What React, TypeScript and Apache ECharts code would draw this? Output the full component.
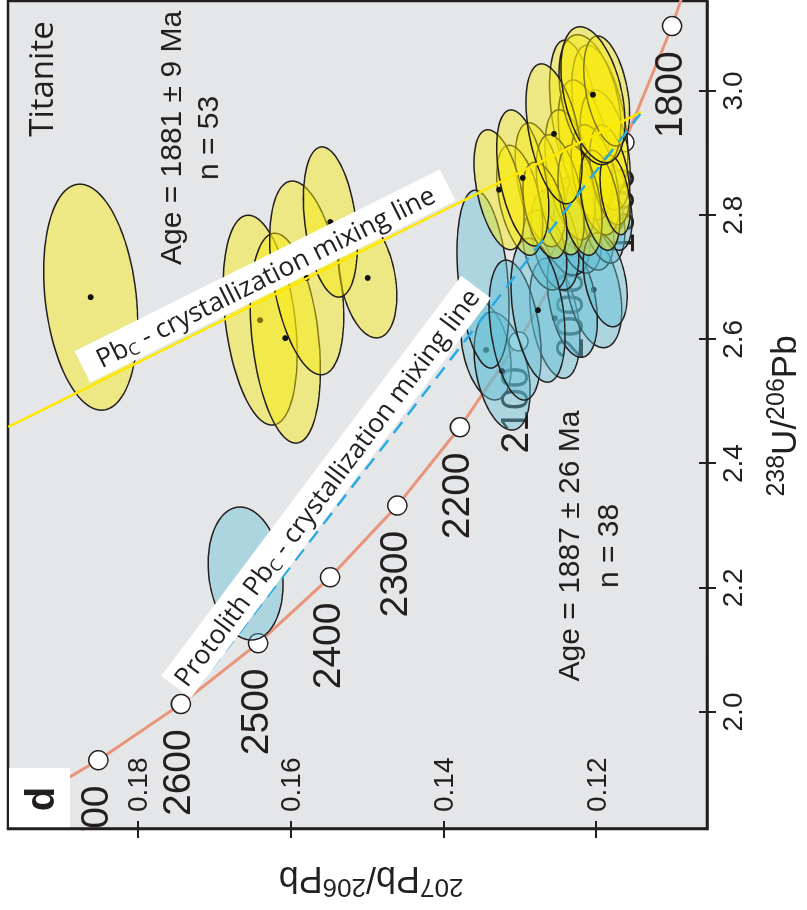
import React, { useEffect, useRef } from "react";
import * as echarts from "echarts";

// Concordia (Tera-Wasserburg) reference ages and their ratios
const concordiaAges = [1700, 1800, 1900, 2000, 2100, 2200, 2300, 2400, 2500, 2600, 2700, 2800];
const concordiaU238Pb206 = [3.314, 3.1046, 2.9174, 2.749, 2.5968, 2.4586, 2.3325, 2.217, 2.1108, 2.0129, 1.9224, 1.8384];
const concordiaPb207Pb206 = [0.10419, 0.11004, 0.11629, 0.12299, 0.13015, 0.13782, 0.14603, 0.15483, 0.16426, 0.17437, 0.1852, 0.19682];
const markedAges = [1800, 1900, 2000, 2100, 2200, 2300, 2400, 2500, 2600, 2700];

// Tick labels
const xTickValues = [2.0, 2.2, 2.4, 2.6, 2.8, 3.0];
const yTickValues = [0.12, 0.14, 0.16, 0.18];

// Error ellipses: [238U/206Pb, sigma x, 207Pb/206Pb, sigma y, rho, showCentre]
const blueEllipses = [
  [2.223, 0.1071, 0.1659, 0.00491, 0.15, 1],
  [2.583, 0.0805, 0.1344, 0.00328, 0.35, 1],
  [2.549, 0.095, 0.1323, 0.00367, 0.35, 1],
  [2.634, 0.0966, 0.1254, 0.00328, 0.35, 1],
  [2.68, 0.0934, 0.1203, 0.00367, 0.35, 1],
  [2.697, 0.1433, 0.1348, 0.00341, 0.3, 0],
  [2.615, 0.1127, 0.1306, 0.00341, 0.35, 0],
  [2.663, 0.0918, 0.1231, 0.00328, 0.35, 0],
  [2.776, 0.0725, 0.1241, 0.00328, 0.35, 0],
  [2.784, 0.0773, 0.1224, 0.00314, 0.35, 0],
  [2.789, 0.0773, 0.1208, 0.00314, 0.35, 0],
  [2.8, 0.0773, 0.1191, 0.00288, 0.35, 0],
  [2.816, 0.0725, 0.1179, 0.00262, 0.35, 0],
  [2.76, 0.0805, 0.1254, 0.00314, 0.35, 0],
  [2.744, 0.0644, 0.1267, 0.00288, 0.35, 0],
  [2.696, 0.0757, 0.1188, 0.00288, 0.35, 0],
  [2.647, 0.1159, 0.1276, 0.00354, 0.35, 1],
];

const yellowEllipses = [
  [2.668, 0.182, 0.1862, 0.00616, 0.23, 1],
  [2.631, 0.169, 0.164, 0.00485, 0.32, 1],
  [2.602, 0.169, 0.1607, 0.00459, 0.3, 1],
  [2.699, 0.156, 0.1579, 0.00485, 0.39, 1],
  [2.699, 0.0966, 0.1499, 0.0038, 0.3, 1],
  [2.789, 0.121, 0.1548, 0.00354, 0.31, 1],
  [2.961, 0.1208, 0.1228, 0.00328, 0.4, 0],
  [2.953, 0.1208, 0.1195, 0.00367, 0.45, 0],
  [2.905, 0.1127, 0.1214, 0.00354, 0.45, 0],
  [2.905, 0.0966, 0.1188, 0.00328, 0.4, 0],
  [2.865, 0.1047, 0.1234, 0.00328, 0.45, 0],
  [2.857, 0.0886, 0.1201, 0.00314, 0.45, 0],
  [2.865, 0.0805, 0.1182, 0.00262, 0.4, 0],
  [2.849, 0.0998, 0.1273, 0.00328, 0.45, 0],
  [2.833, 0.0966, 0.1247, 0.00314, 0.45, 0],
  [2.824, 0.0886, 0.1221, 0.00288, 0.4, 0],
  [2.824, 0.0805, 0.1195, 0.00262, 0.4, 0],
  [2.833, 0.0644, 0.1175, 0.00197, 0.4, 0],
  [2.824, 0.0886, 0.13, 0.00301, 0.45, 0],
  [2.808, 0.0773, 0.1267, 0.00288, 0.45, 0],
  [2.986, 0.1047, 0.1208, 0.00405, 0.4, 0],
  [3.0, 0.0886, 0.1186, 0.003, 0.4, 0],
  [2.841, 0.0966, 0.1327, 0.00328, 0.45, 1],
  [2.86, 0.1095, 0.1296, 0.00341, 0.45, 1],
  [2.931, 0.1127, 0.1255, 0.00367, 0.45, 1],
  [2.994, 0.1095, 0.1204, 0.0042, 0.4, 1],
];

// Mixing lines (238U/206Pb, 207Pb/206Pb)
const crystallizationLine = [
  [2.459, 0.197],
  [2.966, 0.1141],
];
const protolithLine = [
  [2.039, 0.1723],
  [2.963, 0.1142],
];

const INK = "#231f20";
const HELV = "'Liberation Sans', Arial, Helvetica, sans-serif";
const MYR = "'Open Sans', 'Noto Sans', sans-serif";

function ellipseRenderer(fill: string) {
  return (params: any, api: any) => {
    const x = api.value(0);
    const sx = api.value(1);
    const y = api.value(2);
    const sy = api.value(3);
    const rho = api.value(4);
    const dot = api.value(5);
    const k = Math.sqrt(1 - rho * rho);
    const pts: number[][] = [];
    const n = 90;
    for (let i = 0; i < n; i++) {
      const t = (i / n) * Math.PI * 2;
      pts.push(api.coord([x + sx * Math.cos(t), y + sy * (rho * Math.cos(t) + k * Math.sin(t))]));
    }
    const children: any[] = [
      {
        type: "polygon",
        shape: { points: pts },
        style: { fill, stroke: INK, lineWidth: 1.5 },
      },
    ];
    if (dot) {
      const c = api.coord([x, y]);
      children.push({ type: "circle", shape: { cx: c[0], cy: c[1], r: 3 }, style: { fill: "#111" } });
    }
    return { type: "group", children };
  };
}

export default function App() {
  const ref = useRef<HTMLDivElement>(null);

  useEffect(() => {
    if (!ref.current) return;
    const chart = echarts.init(ref.current, undefined, { renderer: "svg" });

    const xMin = 1.8116;
    const xMax = 3.1449;
    const yMin = 0.10546;
    const yMax = 0.19703;

    const concordiaData = concordiaAges.map((a, i) => [concordiaU238Pb206[i], concordiaPb207Pb206[i]]);
    const markedData = markedAges.map((a) => {
      const i = concordiaAges.indexOf(a);
      return [concordiaU238Pb206[i], concordiaPb207Pb206[i], a];
    });

    const option: any = {
      animation: false,
      textStyle: { fontFamily: HELV },
      grid: {
        left: 81,
        right: 1,
        top: 8,
        bottom: 100,
        show: true,
        backgroundColor: "#e4e6e8",
        borderColor: INK,
        borderWidth: 2.5,
        outerBoundsMode: "none",
      },
      xAxis: [
        {
          type: "value",
          min: xMin,
          max: xMax,
          position: "bottom",
          z: 12,
          axisLine: { show: true, lineStyle: { color: INK, width: 2.5 } },
          axisTick: { show: true, customValues: xTickValues, length: 9, lineStyle: { color: INK, width: 2 } },
          axisLabel: {
            show: true,
            customValues: xTickValues,
            margin: 11,
            fontSize: 28,
            fontFamily: HELV,
            color: INK,
            formatter: (v: number) => v.toFixed(1),
          },
          splitLine: { show: false },
        },
        {
          type: "value",
          min: xMin,
          max: xMax,
          position: "bottom",
          z: 12,
          axisLine: { show: false },
          axisTick: { show: true, inside: true, customValues: xTickValues, length: 8, lineStyle: { color: INK, width: 2 } },
          axisLabel: { show: false },
          splitLine: { show: false },
        },
      ],
      yAxis: [
        {
          type: "value",
          min: yMin,
          max: yMax,
          position: "left",
          z: 12,
          axisLine: { show: true, lineStyle: { color: INK, width: 2.5 } },
          axisTick: { show: true, customValues: yTickValues, length: 9, lineStyle: { color: INK, width: 2 } },
          axisLabel: {
            show: true,
            inside: true,
            customValues: yTickValues,
            margin: 17,
            fontSize: 28,
            fontFamily: HELV,
            color: INK,
            formatter: (v: number) => v.toFixed(2),
          },
          splitLine: { show: false },
        },
        {
          type: "value",
          min: yMin,
          max: yMax,
          position: "left",
          z: 12,
          axisLine: { show: false },
          axisTick: { show: true, inside: true, customValues: yTickValues, length: 8, lineStyle: { color: INK, width: 2 } },
          axisLabel: { show: false },
          splitLine: { show: false },
        },
      ],
      series: [
        {
          type: "line",
          data: concordiaData,
          showSymbol: false,
          symbol: "none",
          z: 1,
          silent: true,
          lineStyle: { color: "#e8957a", width: 3 },
          clip: true,
        },
        {
          type: "scatter",
          data: markedData,
          symbol: "circle",
          symbolSize: 19,
          z: 1,
          silent: true,
          itemStyle: { color: "#ffffff", borderColor: INK, borderWidth: 1.5, opacity: 1 },
          label: {
            show: true,
            position: "left",
            distance: 15,
            offset: [0, -4],
            fontSize: 39,
            fontFamily: HELV,
            color: INK,
            formatter: (p: any) => String(p.value[2]),
          },
        },
        {
          type: "custom",
          z: 3,
          silent: true,
          renderItem: ellipseRenderer("rgba(95, 190, 212, 0.42)"),
          encode: { x: 0, y: 2 },
          data: blueEllipses,
        },
        {
          type: "custom",
          z: 3,
          silent: true,
          renderItem: ellipseRenderer("rgba(248, 234, 10, 0.45)"),
          encode: { x: 0, y: 2 },
          data: yellowEllipses,
        },
        {
          type: "line",
          data: crystallizationLine,
          symbol: "none",
          z: 4,
          silent: true,
          lineStyle: { color: "#ffe800", width: 2.5 },
        },
        {
          type: "line",
          data: protolithLine,
          symbol: "none",
          z: 4,
          silent: true,
          lineStyle: { color: "#29abe2", width: 2.5, type: [14, 9] },
        },
      ],
      graphic: {
        elements: [
          { type: "rect", z: 6, silent: true, shape: { x: 0, y: 0, width: 79, height: 807 }, style: { fill: "#ffffff" } },
          { type: "rect", z: 10, shape: { x: 82, y: 9, width: 60, height: 61 }, style: { fill: "#ffffff" } },
          {
            type: "text",
            z: 11,
            x: 111,
            y: 40,
            style: { text: "d", fontSize: 40, fontWeight: "bold", fontFamily: HELV, fill: INK, align: "center", verticalAlign: "middle" },
          },
          {
            type: "text",
            z: 8,
            x: 831,
            y: 40,
            style: { text: "Titanite", fontSize: 33, fontFamily: MYR, fill: INK, align: "center", verticalAlign: "middle" },
          },
          {
            type: "text",
            z: 8,
            x: 772,
            y: 189,
            style: {
              text: "Age = 1881 ± 9 Ma\nn = 53",
              fontSize: 30,
              lineHeight: 37,
              fontFamily: HELV,
              fill: INK,
              align: "center",
              verticalAlign: "middle",
            },
          },
          {
            type: "text",
            z: 8,
            x: 364,
            y: 588,
            style: {
              text: "Age = 1887 ± 26 Ma\nn = 38",
              fontSize: 30,
              lineHeight: 39,
              fontFamily: HELV,
              fill: INK,
              align: "center",
              verticalAlign: "middle",
            },
          },
          {
            type: "group",
            z: 10,
            x: 634,
            y: 265,
            rotation: -1.108,
            children: [
              { type: "rect", z: 10, shape: { x: -204, y: -17.5, width: 408, height: 35 }, style: { fill: "#ffffff" } },
              {
                type: "text",
                z: 11,
                x: 0,
                y: 0,
                style: {
                  text: "{n|Pb}{s|C}{n| - crystallization mixing line}",
                  align: "center",
                  verticalAlign: "middle",
                  fill: INK,
                  rich: {
                    n: { fontSize: 26.5, lineHeight: 30, fontFamily: MYR, fill: INK, verticalAlign: "middle" },
                    s: { fontSize: 17, lineHeight: 17, fontFamily: MYR, fill: INK, verticalAlign: "bottom" },
                  },
                },
              },
            ],
          },
          {
            type: "group",
            z: 10,
            x: 423,
            y: 326,
            rotation: -0.644,
            children: [
              { type: "rect", z: 10, shape: { x: -250, y: -18.5, width: 500, height: 37 }, style: { fill: "#ffffff" } },
              {
                type: "text",
                z: 11,
                x: 0,
                y: 0,
                style: {
                  text: "{n|Protolith Pb}{s|C}{n| - crystallization mixing line}",
                  align: "center",
                  verticalAlign: "middle",
                  fill: INK,
                  rich: {
                    n: { fontSize: 26.5, lineHeight: 30, fontFamily: MYR, fill: INK, verticalAlign: "middle" },
                    s: { fontSize: 17, lineHeight: 17, fontFamily: MYR, fill: INK, verticalAlign: "bottom" },
                  },
                },
              },
            ],
          },
          {
            type: "text",
            z: 12,
            x: 494,
            y: 783,
            style: {
              text: "{s|238}{n|U/}{s|206}{n|Pb}",
              align: "center",
              verticalAlign: "middle",
              fill: INK,
              rich: {
                n: { fontSize: 35, lineHeight: 42, fontFamily: HELV, fill: INK, verticalAlign: "middle" },
                s: { fontSize: 25, lineHeight: 25, fontFamily: HELV, fill: INK, verticalAlign: "top" },
              },
            },
          },
          {
            type: "text",
            z: 12,
            x: 30,
            y: 371,
            rotation: Math.PI / 2,
            style: {
              text: "{s|207}{n|Pb/}{s|206}{n|Pb}",
              align: "center",
              verticalAlign: "middle",
              fill: INK,
              rich: {
                n: { fontSize: 36, lineHeight: 42, fontFamily: HELV, fill: INK, verticalAlign: "middle" },
                s: { fontSize: 26, lineHeight: 26, fontFamily: HELV, fill: INK, verticalAlign: "top" },
              },
            },
          },
        ],
      },
    };

    chart.setOption(option);
    return () => chart.dispose();
  }, []);

  return (
    <div
      ref={ref}
      style={{
        position: "fixed",
        left: 0,
        top: 0,
        width: 910,
        height: 807,
        transform: "translate(0px, 910px) rotate(-90deg)",
        transformOrigin: "0 0",
        background: "#ffffff",
      }}
    />
  );
}
